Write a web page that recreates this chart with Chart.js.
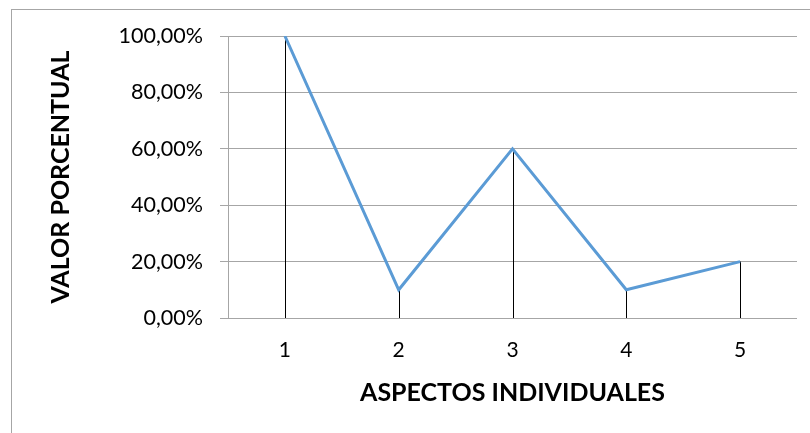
<!DOCTYPE html>
<html>
<head>
<meta charset="utf-8">
<script src="https://cdn.jsdelivr.net/npm/chart.js@4.4.0/dist/chart.umd.min.js"></script>
<style>
  html, body { margin: 0; padding: 0; background: #fff; overflow: hidden; }
  #wrap { position: relative; width: 810px; height: 433px; }
  #frame { position: absolute; left: 11px; top: 9px; width: 900px; height: 600px; border: 1px solid #a6a6a6; }
  canvas { position: absolute; left: 0; top: 0; }
</style>
</head>
<body>
<div id="wrap">
  <div id="frame"></div>
  <canvas id="c" width="810" height="433"></canvas>
</div>
<script>
const categories = ['1', '2', '3', '4', '5'];
const values = [1.00, 0.10, 0.60, 0.10, 0.20];
const yTitle = 'VALOR PORCENTUAL';
const xTitle = 'ASPECTOS INDIVIDUALES';

const dropLines = {
  id: 'dropLines',
  beforeDatasetsDraw(chart) {
    const meta = chart.getDatasetMeta(0);
    const yScale = chart.scales.y;
    const base = yScale.getPixelForValue(0);
    const ctx = chart.ctx;
    ctx.save();
    ctx.strokeStyle = '#000';
    ctx.lineWidth = 1;
    meta.data.forEach(pt => {
      const x = Math.round(pt.x) + 0.5;
      ctx.beginPath();
      ctx.moveTo(x, pt.y);
      ctx.lineTo(x, base);
      ctx.stroke();
    });
    ctx.restore();
  }
};

new Chart(document.getElementById('c'), {
  type: 'line',
  data: {
    labels: categories,
    datasets: [{
      data: values,
      borderColor: '#5B9BD5',
      borderWidth: 3,
      pointRadius: 0,
      fill: false,
      tension: 0
    }]
  },
  options: {
    responsive: false,
    animation: false,
    layout: { padding: { left: 10, right: 13, top: 36, bottom: 0 } },
    plugins: { legend: { display: false }, tooltip: { enabled: false } },
    scales: {
      x: {
        offset: true,
        grid: { display: false, drawTicks: false },
        border: { display: false },
        ticks: { color: '#000', padding: 20, font: { family: 'Lato', size: 21 } },
        title: { display: true, text: xTitle, color: '#000', font: { family: 'Lato', size: 25, weight: 'bold' }, padding: { top: 0, bottom: 25 } },
        afterFit(s) { s.height = 433 - 318; }
      },
      y: {
        min: 0, max: 1,
        ticks: {
          stepSize: 0.2, color: '#000', padding: 17,
          font: { family: 'Lato', size: 21.5 },
          callback: v => (v * 100).toFixed(2).replace('.', ',') + '%'
        },
        grid: { color: '#a6a6a6', lineWidth: 1, tickLength: 8 },
        border: { display: true, color: '#a6a6a6' },
        title: { display: true, text: yTitle, color: '#000', font: { family: 'Lato', size: 25, weight: 'bold' }, padding: { top: 36, bottom: 0 } },
        afterFit(s) { s.width = 218; }
      }
    }
  },
  plugins: [dropLines]
});
</script>
</body>
</html>
